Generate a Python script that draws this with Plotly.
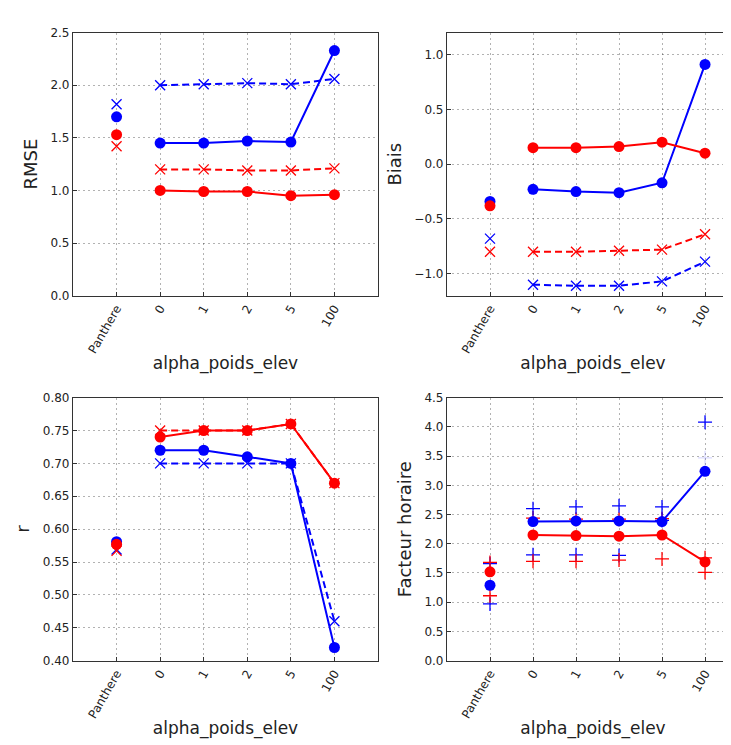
import plotly.graph_objects as go

categories = ["Panthere", "0", "1", "2", "5", "100"]
alphas = ["0", "1", "2", "5", "100"]

# RMSE
rmse_blue_solid = [1.45, 1.45, 1.47, 1.46, 2.33]
rmse_blue_dash = [2.00, 2.01, 2.02, 2.01, 2.06]
rmse_red_dash = [1.20, 1.20, 1.19, 1.19, 1.21]
rmse_red_solid = [1.00, 0.99, 0.99, 0.95, 0.96]
rmse_pan_blue_circle = 1.70
rmse_pan_blue_x = 1.82
rmse_pan_red_circle = 1.53
rmse_pan_red_x = 1.42

# Biais
biais_red_solid = [0.15, 0.15, 0.16, 0.20, 0.10]
biais_blue_solid = [-0.23, -0.25, -0.26, -0.17, 0.91]
biais_red_dash = [-0.80, -0.80, -0.79, -0.78, -0.64]
biais_blue_dash = [-1.10, -1.11, -1.11, -1.07, -0.89]
biais_pan_blue_circle = -0.34
biais_pan_red_circle = -0.38
biais_pan_blue_x = -0.68
biais_pan_red_x = -0.80

# r
r_red_solid = [0.74, 0.75, 0.75, 0.76, 0.67]
r_red_dash = [0.75, 0.75, 0.75, 0.76, 0.67]
r_blue_solid = [0.72, 0.72, 0.71, 0.70, 0.42]
r_blue_dash = [0.70, 0.70, 0.70, 0.70, 0.46]
r_pan_blue_circle = 0.581
r_pan_red_circle = 0.577
r_pan_red_x = 0.567
r_pan_blue_x = 0.569

# Facteur horaire
fh_blue_solid = [2.38, 2.39, 2.39, 2.38, 3.24]
fh_red_solid = [2.15, 2.14, 2.13, 2.15, 1.69]
fh_blue_plus_hi = [2.60, 2.63, 2.65, 2.63, 4.08]
fh_blue_plus_lo = [1.81, 1.81, 1.80, 2.40, 3.47]
fh_red_plus_hi = [2.44, 2.42, 2.42, 2.43, 1.76]
fh_red_plus_lo = [1.70, 1.70, 1.72, 1.74, 1.51]
fh_pan_red_circle = 1.52
fh_pan_blue_circle = 1.29
fh_pan_red_plus = [1.68, 1.11]
fh_pan_blue_plus = [1.66, 0.97]

BLUE = "#0000ff"
RED = "#ff0000"
DASH = "7px,4px"

xi = list(range(1, len(alphas) + 1))

fig = go.Figure()


def line(xa, ya, y, color, dash, symbol, size):
    is_circle = symbol == "circle"
    fig.add_trace(go.Scatter(
        x=xi, y=y, xaxis=xa, yaxis=ya, mode="lines+markers",
        line=dict(color=color, width=2, dash=dash),
        marker=dict(symbol=symbol, size=size, color=color,
                    line=dict(color=color, width=0 if is_circle else 1.3)),
        showlegend=False, cliponaxis=False))


def pts(xa, ya, x, y, color, symbol, size, opacity=1):
    is_circle = symbol == "circle"
    fig.add_trace(go.Scatter(
        x=x, y=y, xaxis=xa, yaxis=ya, mode="markers",
        marker=dict(symbol=symbol, size=size, color=color, opacity=opacity,
                    line=dict(color=color, width=0 if is_circle else 1.3)),
        showlegend=False, cliponaxis=False))


# Panel 1: RMSE
line("x", "y", rmse_blue_dash, BLUE, DASH, "x-thin-open", 10)
line("x", "y", rmse_red_dash, RED, DASH, "x-thin-open", 10)
line("x", "y", rmse_blue_solid, BLUE, "solid", "circle", 11)
line("x", "y", rmse_red_solid, RED, "solid", "circle", 11)
pts("x", "y", [0], [rmse_pan_blue_x], BLUE, "x-thin-open", 10)
pts("x", "y", [0], [rmse_pan_blue_circle], BLUE, "circle", 11)
pts("x", "y", [0], [rmse_pan_red_circle], RED, "circle", 11)
pts("x", "y", [0], [rmse_pan_red_x], RED, "x-thin-open", 10)

# Panel 2: Biais
line("x2", "y2", biais_blue_dash, BLUE, DASH, "x-thin-open", 10)
line("x2", "y2", biais_red_dash, RED, DASH, "x-thin-open", 10)
line("x2", "y2", biais_blue_solid, BLUE, "solid", "circle", 11)
line("x2", "y2", biais_red_solid, RED, "solid", "circle", 11)
pts("x2", "y2", [0], [biais_pan_blue_x], BLUE, "x-thin-open", 10)
pts("x2", "y2", [0], [biais_pan_red_x], RED, "x-thin-open", 10)
pts("x2", "y2", [0], [biais_pan_blue_circle], BLUE, "circle", 11)
pts("x2", "y2", [0], [biais_pan_red_circle], RED, "circle", 11)

# Panel 3: r
line("x3", "y3", r_blue_dash, BLUE, DASH, "x-thin-open", 10)
line("x3", "y3", r_blue_solid, BLUE, "solid", "circle", 11)
line("x3", "y3", r_red_dash, RED, DASH, "x-thin-open", 10)
line("x3", "y3", r_red_solid, RED, "solid", "circle", 11)
pts("x3", "y3", [0], [r_pan_blue_x], BLUE, "x-thin-open", 10)
pts("x3", "y3", [0], [r_pan_blue_circle], BLUE, "circle", 11)
pts("x3", "y3", [0], [r_pan_red_circle], RED, "circle", 11)
pts("x3", "y3", [0], [r_pan_red_x], RED, "x-thin-open", 10)

# Panel 4: Facteur horaire
pts("x4", "y4", xi, fh_red_plus_hi, RED, "cross-thin-open", 10)
pts("x4", "y4", xi, fh_blue_plus_lo, BLUE, "cross-thin-open", 10,
    opacity=[1, 1, 1, 1, 0.15])
line("x4", "y4", fh_blue_solid, BLUE, "solid", "circle", 11)
line("x4", "y4", fh_red_solid, RED, "solid", "circle", 11)
pts("x4", "y4", xi, fh_blue_plus_hi, BLUE, "cross-thin-open", 10)
pts("x4", "y4", xi, fh_red_plus_lo, RED, "cross-thin-open", 10)
pts("x4", "y4", [0, 0], fh_pan_blue_plus, BLUE, "cross-thin-open", 10)
pts("x4", "y4", [0, 0], fh_pan_red_plus, RED, "cross-thin-open", 10)
pts("x4", "y4", [0], [fh_pan_red_circle], RED, "circle", 11)
pts("x4", "y4", [0], [fh_pan_blue_circle], BLUE, "circle", 11)

W, H = 731, 745
FONT = "DejaVu Sans"
grid = dict(showgrid=True, gridcolor="rgba(0,0,0,0.3)", griddash="2px,3px", gridwidth=1)

def xaxis(dom, rng, anchor):
    return dict(domain=dom, range=rng, anchor=anchor, tickmode="array",
                tickvals=list(range(len(categories))), ticktext=categories,
                tickangle=-60, tickfont=dict(family=FONT, size=12, color="#222"),
                showline=True, linecolor="#333", linewidth=1.2, mirror=True,
                ticks="inside", ticklen=4, tickcolor="#333", zeroline=False,
                title=dict(text="alpha_poids_elev", font=dict(family=FONT, size=17, color="#222"), standoff=2),
                **grid)

def yaxis(dom, rng, dtick, anchor, title, mirror, fmt):
    return dict(domain=dom, range=rng, anchor=anchor, dtick=dtick, tick0=0,
                tickformat=fmt, tickfont=dict(family=FONT, size=12, color="#222"),
                showline=True, linecolor="#333", linewidth=1.2, mirror=mirror,
                ticks="inside", ticklen=4, tickcolor="#333", zeroline=False,
                title=dict(text=title, font=dict(family=FONT, size=18, color="#222"), standoff=8),
                **grid)

lx = [65 / W, 370 / W]
rx = [439 / W, 1.0]
ty = [1 - 286 / H, 1 - 18 / H]
by = [1 - 658 / H, 1 - 390 / H]

fig.update_layout(
    width=W, height=H, margin=dict(l=0, r=0, t=0, b=0),
    paper_bgcolor="white", plot_bgcolor="white",
    font=dict(family=FONT),
    xaxis=xaxis(lx, [-1, 6], "y"),
    yaxis=yaxis(ty, [0, 2.5], 0.5, "x", "RMSE", True, ".1f"),
    xaxis2=xaxis(rx, [-1, 5.79], "y2"),
    yaxis2=yaxis(ty, [-1.2, 1.2], 0.5, "x2", "Biais", False, ".1f"),
    xaxis3=xaxis(lx, [-1, 6], "y3"),
    yaxis3=yaxis(by, [0.4, 0.8], 0.05, "x3", "r", True, ".2f"),
    xaxis4=xaxis(rx, [-1, 5.79], "y4"),
    yaxis4=yaxis(by, [0, 4.5], 0.5, "x4", "Facteur horaire", False, ".1f"),
)

fig.write_html("out.html")
